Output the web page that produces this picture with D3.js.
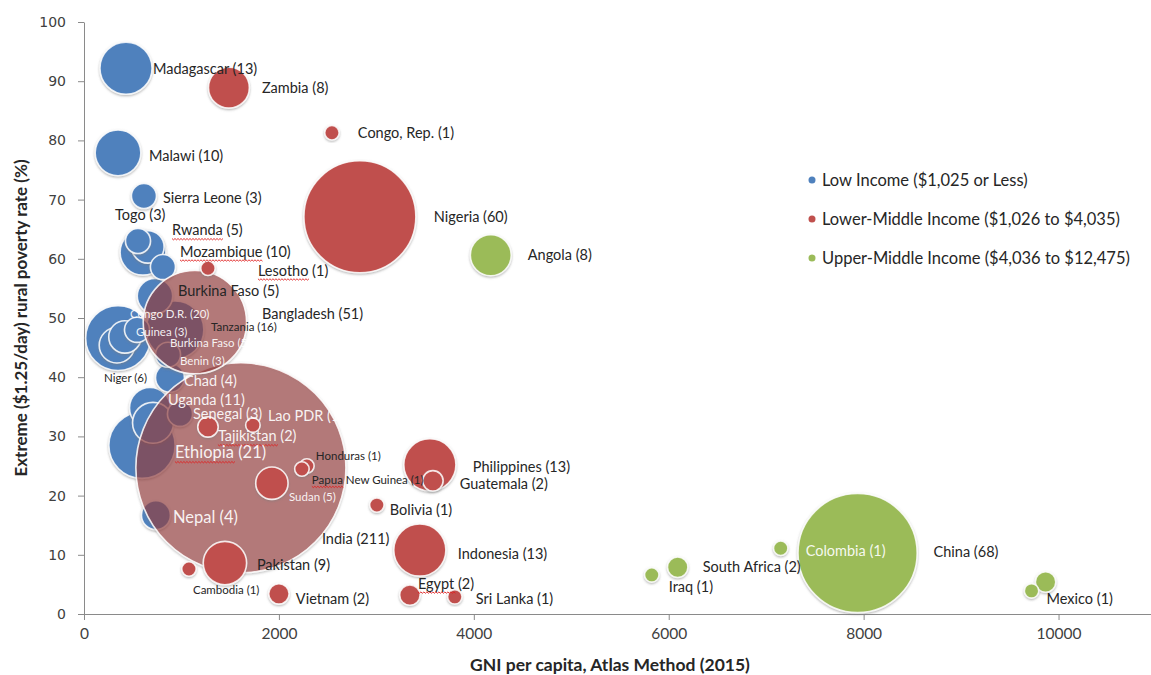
<!DOCTYPE html>
<html><head><meta charset="utf-8">
<script src="https://cdn.jsdelivr.net/npm/d3@7"></script>
<style>
body{margin:0;background:#fff}
svg{display:block}
text{font-family:Lato,"Open Sans",sans-serif}
</style>
</head><body>
<svg id="c" width="1151" height="675"></svg>
<script>
// ---------------- DATA ----------------
const xTicks = [0, 2000, 4000, 6000, 8000, 10000];
const yTicks = [0, 10, 20, 30, 40, 50, 60, 70, 80, 90, 100];

const seriesNames = ["Low Income ($1,025 or Less)", "Lower-Middle Income ($1,026 to $4,035)", "Upper-Middle Income ($4,036 to $12,475)"];

// Low income
const lowNames = ["Madagascar","Malawi","Sierra Leone","Togo","Rwanda","Mozambique","Liberia","Guinea-Bissau","Congo, Dem. Rep.","Guinea","Burkina Faso","Niger","Benin","Chad","Tanzania","Uganda","Mali","Senegal","Ethiopia","Nepal"];
const lowGni   = [431, 349, 615, 554, 656, 605, 810, 728, 349, 544, 420, 338, 862, 882, 933, 677, 708, 985, 595, 738];
const lowPov   = [92.2, 77.9, 70.6, 63.0, 62.0, 61.1, 58.6, 53.7, 46.6, 48.0, 46.8, 45.4, 43.8, 39.9, 48.0, 34.8, 32.3, 33.8, 28.5, 16.7];
const lowSize  = [13, 10, 3, 3, 5, 10, 3, 6, 20, 3, 5, 6, 3, 4, 16, 8, 8, 3, 21, 4];

// Lower-middle income
const lmNames = ["Zambia","Congo, Rep.","Nigeria","Lesotho","Bangladesh","India","Tajikistan","Lao PDR","Honduras","Papua New Guinea","Sudan","Philippines","Guatemala","Bolivia","Indonesia","Pakistan","Cambodia","Vietnam","Egypt","Sri Lanka"];
const lmGni   = [1487, 2544, 2831, 1272, 1138, 1610, 1272, 1733, 2287, 2236, 1928, 3549, 3580, 3005, 3446, 1446, 1077, 2000, 3344, 3805];
const lmPov   = [88.9, 81.3, 67.1, 58.4, 49.3, 24.7, 31.6, 31.9, 25.0, 24.5, 22.1, 25.2, 22.5, 18.4, 10.8, 8.6, 7.6, 3.4, 3.2, 2.9];
const lmSize  = [8, 1, 60, 1, 51, 211, 2, 1, 1, 1, 5, 13, 2, 1, 13, 9, 1, 2, 2, 1];

// Upper-middle income
const umNames = ["Angola","China","Colombia","South Africa","Iraq","Mexico","Brazil"];
const umGni   = [4174, 7938, 7149, 6092, 5826, 9723, 9867];
const umPov   = [60.6, 10.3, 11.1, 7.9, 6.6, 3.9, 5.4];
const umSize  = [8, 68, 1, 2, 1, 1, 2];

// Data labels (text and anchor in data units: GNI, poverty %)
const labelText = ["Madagascar (13)","Zambia (8)","Congo, Rep. (1)","Malawi (10)","Sierra Leone (3)","Togo (3)","Rwanda (5)","Mozambique (10)","Nigeria (60)","Angola (8)","Lesotho (1)","Burkina Faso (5)","Bangladesh (51)","Congo D.R. (20)","Tanzania (16)","Guinea (3)","Burkina Faso (5)","Benin (3)","Niger (6)","Chad (4)","Uganda (11)","Senegal (3)","Lao PDR (1)","Tajikistan (2)","Ethiopia (21)","Honduras (1)","Papua New Guinea (1)","Sudan (5)","Philippines (13)","Guatemala (2)","Bolivia (1)","Nepal (4)","India (211)","Indonesia (13)","Pakistan (9)","Cambodia (1)","Egypt (2)","Vietnam (2)","Sri Lanka (1)","South Africa (2)","Iraq (1)","Colombia (1)","China (68)","Mexico (1)"];
const labelGni  = [708, 1826, 2810, 667, 810, 318, 903, 985, 3590, 4554, 1785, 964, 1826, 472, 1303, 533, 882, 985, 205, 1026, 862, 1118, 1887, 1374, 933, 2379, 2338, 2103, 3990, 3856, 3138, 913, 2441, 3836, 1774, 1118, 3426, 2174, 4021, 6349, 6000, 7405, 8718, 9877];
const labelPov  = [92.2, 89.0, 81.3, 77.5, 70.3, 67.4, 64.9, 61.3, 67.2, 60.8, 58.1, 54.6, 50.8, 50.7, 48.6, 47.7, 45.8, 42.9, 39.9, 39.5, 36.3, 33.8, 33.6, 30.1, 27.4, 26.7, 22.8, 19.9, 25.0, 22.1, 17.6, 16.4, 12.8, 10.3, 8.4, 4.2, 5.2, 2.7, 2.7, 8.1, 4.6, 10.8, 10.5, 2.7];

// ---------------- STYLE ----------------
const colors = ["#4F81BD", "#C0504D", "#9BBB59"];
// label tone: d = dark text, w = white text; font: s/m/l
const labelTone = ["d","d","d","d","d","d","d","d","d","d","d","d","d","w","d","w","w","w","d","w","w","w","w","w","w","d","d","w","d","d","d","w","d","d","d","d","d","d","d","d","d","w","d","d"];
const labelFont = ["m","m","m","m","m","m","m","m","m","m","m","m","m","s","s","s","s","s","s","m","m","m","m","m","l","s","s","s","m","m","m","l","m","m","m","s","m","m","m","m","m","m","m","m"];
const fontPx = {s: 11.5, m: 14.5, l: 16.5};
const spellWords = ["Rwanda","Mozambique","Lesotho","Tajikistan","Ethiopia","Papua","Egypt"];
const translucent = ["India","Bangladesh"];

// ---------------- CHART ----------------
const svg = d3.select("#c");
const x = d3.scaleLinear().domain([0, 11000]).range([84, 1156]);
const y = d3.scaleLinear().domain([0, 100]).range([614, 22]);
const r = d3.scaleSqrt().domain([0, 211]).range([0, 105]);

const defs = svg.append("defs");
const f = defs.append("filter").attr("id","sh").attr("x","-20%").attr("y","-20%").attr("width","140%").attr("height","140%");
f.append("feDropShadow").attr("dx",0).attr("dy",1.2).attr("stdDeviation",1.3).attr("flood-color","#7a7a7a").attr("flood-opacity",0.55);

// axes
const gx = svg.append("g").attr("transform", `translate(0,${y(0)})`)
  .call(d3.axisBottom(x).tickValues(xTicks).tickSize(6).tickSizeOuter(0).tickPadding(8).tickFormat(d3.format("d")));
const gy = svg.append("g").attr("transform", `translate(${x(0)},0)`)
  .call(d3.axisLeft(y).tickValues(yTicks).tickSize(6).tickSizeOuter(0).tickPadding(12).tickFormat(d3.format("d")));
[gx, gy].forEach(g => {
  g.select(".domain").attr("stroke", "#8a8a8a");
  g.selectAll(".tick line").attr("stroke", "#8a8a8a");
  g.selectAll(".tick text").attr("fill", "#404040");
});
gx.selectAll(".tick text").style("font-family", "Lato, sans-serif").style("font-size", "15.5px");
gy.selectAll(".tick text").style("font-family", "'DejaVu Sans', sans-serif").style("font-size", "14px");

// axis titles
svg.append("text").attr("x", 610).attr("y", 664).attr("text-anchor","middle").attr("dominant-baseline","central")
  .attr("font-weight","bold").attr("font-size","17.5px").attr("fill","#262626").text("GNI per capita, Atlas Method (2015)");
svg.append("text").attr("transform","translate(20,318) rotate(-90)").attr("text-anchor","middle").attr("dominant-baseline","central")
  .attr("font-weight","bold").attr("font-size","17px").attr("fill","#262626").text("Extreme ($1.25/day) rural poverty rate (%)");

// bubbles
function series(names, gni, pov, size, si) {
  return names.map((n, i) => ({name: n, gni: gni[i], pov: pov[i], size: size[i], s: si}));
}
const groups = [
  series(lowNames, lowGni, lowPov, lowSize, 0),
  series(lmNames, lmGni, lmPov, lmSize, 1),
  series(umNames, umGni, umPov, umSize, 2)
];
const gB = svg.append("g");
groups.forEach(arr => {
  const sorted = arr.slice().sort((a, b) => b.size - a.size);
  gB.append("g").selectAll("circle").data(sorted).join("circle")
    .attr("cx", d => x(d.gni)).attr("cy", d => y(d.pov)).attr("r", d => r(d.size))
    .attr("fill", d => translucent.includes(d.name) ? "rgb(150,30,30)" : colors[d.s])
    .attr("fill-opacity", d => translucent.includes(d.name) ? 0.55 : 1)
    .attr("stroke", "rgba(255,255,255,0.85)").attr("stroke-width", 1.6)
    .attr("filter", "url(#sh)");
});

// labels
const gL = svg.append("g");
labelText.forEach((t, i) => {
  const tx = gL.append("text")
    .attr("x", x(labelGni[i])).attr("y", y(labelPov[i]))
    .attr("dominant-baseline", "central")
    .attr("font-size", fontPx[labelFont[i]] + "px")
    .attr("fill", labelTone[i] === "w" ? "#ffffff" : "#262626")
    .attr("fill-opacity", labelTone[i] === "w" ? 0.92 : 1)
    .text(t);
  const w = spellWords.find(sw => t.startsWith(sw));
  if (w) {
    const node = tx.node();
    const wl = node.getSubStringLength(0, w.length);
    const x0 = x(labelGni[i]), yy = y(labelPov[i]) + fontPx[labelFont[i]] * 0.5 + 1.5;
    let p = `M${x0},${yy}`;
    for (let k = 0, xx = x0; xx < x0 + wl; k++) { xx += 1.5; p += `L${xx},${yy + (k % 2 ? 0 : 1.3)}`; }
    gL.append("path").attr("d", p).attr("fill", "none").attr("stroke", "#e02020").attr("stroke-width", 0.9);
  }
});

// legend
const gLeg = svg.append("g");
seriesNames.forEach((n, i) => {
  const yy = 180 + i * 39;
  gLeg.append("circle").attr("cx", 812).attr("cy", yy).attr("r", 3.5).attr("fill", colors[i]);
  gLeg.append("text").attr("x", 822).attr("y", yy).attr("dominant-baseline", "central")
    .attr("font-size", "16.5px").attr("fill", "#262626").text(n);
});
</script>
</body></html>
